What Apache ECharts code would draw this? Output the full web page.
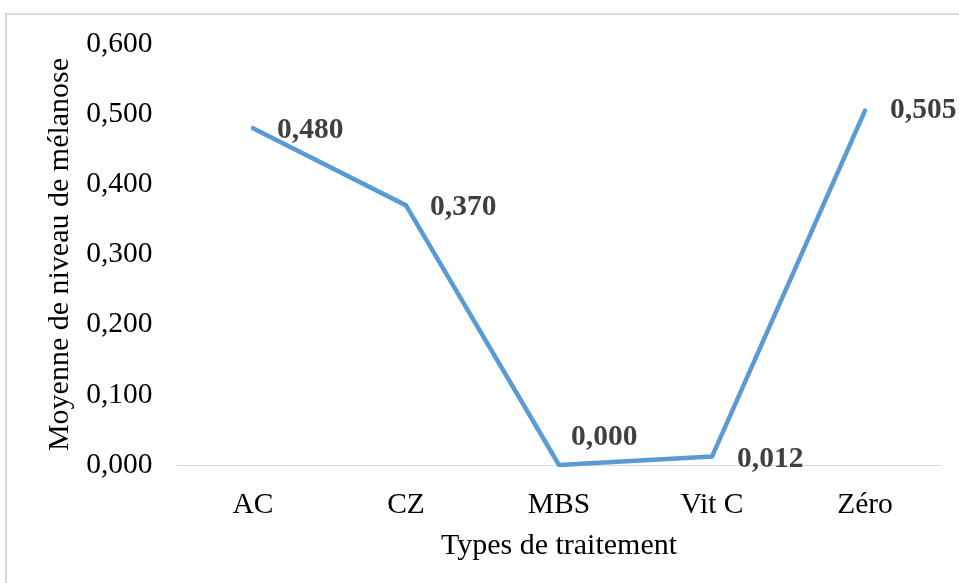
<!DOCTYPE html>
<html>
<head>
<meta charset="utf-8">
<script src="https://cdn.jsdelivr.net/npm/echarts@6/dist/echarts.min.js"></script>
<style>
  html, body { margin: 0; padding: 0; background: #fff; }
  #chart { width: 959px; height: 583px; }
</style>
</head>
<body>
<div id="chart"></div>
<script>
// Mean melanosis level by treatment type
const categories = ['AC', 'CZ', 'MBS', 'Vit C', 'Zéro'];
const meanMelanose = [0.480, 0.370, 0.000, 0.012, 0.505];
// Per-point label placement: [distance from point, vertical offset]
const labelPlacement = [[23, 2], [23, 2], [11, -28], [24, 3], [24, 0]];

const serif = '"Liberation Serif", "Times New Roman", serif';
const fmt = v => v.toFixed(3).replace('.', ',');

const chart = echarts.init(document.getElementById('chart'), null, { renderer: 'canvas' });

chart.setOption({
  backgroundColor: '#ffffff',
  animation: false,
  graphic: [{
    type: 'rect',
    shape: { x: 6, y: 14, width: 1200, height: 1000 },
    style: { fill: 'none', stroke: '#d9d9d9', lineWidth: 2 },
    silent: true,
    z: -1
  }],
  grid: { left: 176.5, right: 17.5, top: 44, bottom: 118, containLabel: false },
  xAxis: {
    type: 'category',
    data: categories,
    boundaryGap: true,
    name: 'Types de traitement',
    nameLocation: 'middle',
    nameGap: 66,
    nameTextStyle: { fontFamily: serif, fontSize: 30, color: '#000' },
    axisLine: { lineStyle: { color: '#d9d9d9', width: 1 } },
    axisTick: { show: false },
    axisLabel: { fontFamily: serif, fontSize: 29.5, color: '#000', margin: 25 },
    splitLine: { show: false }
  },
  yAxis: {
    type: 'value',
    min: 0,
    max: 0.6,
    interval: 0.1,
    name: 'Moyenne de niveau de mélanose',
    nameLocation: 'middle',
    nameGap: 98,
    nameRotate: 90,
    nameTextStyle: { fontFamily: serif, fontSize: 30, color: '#000' },
    axisLine: { show: false },
    axisTick: { show: false },
    splitLine: { show: false },
    axisLabel: {
      fontFamily: serif, fontSize: 29.5, color: '#000', margin: 24,
      formatter: v => fmt(v)
    }
  },
  series: [{
    type: 'line',
    data: meanMelanose.map((v, i) => ({
      value: v,
      label: { distance: labelPlacement[i][0], offset: [0, labelPlacement[i][1]] }
    })),
    symbol: 'circle',
    symbolSize: 2,
    showSymbol: true,
    lineStyle: { color: '#5b9bd5', width: 4.5, cap: 'round', join: 'round' },
    itemStyle: { color: '#5b9bd5' },
    label: {
      show: true,
      position: 'right',
      fontFamily: serif,
      fontSize: 29.5,
      fontWeight: 'bold',
      color: '#404040',
      formatter: p => fmt(p.value)
    }
  }]
});
</script>
</body>
</html>
